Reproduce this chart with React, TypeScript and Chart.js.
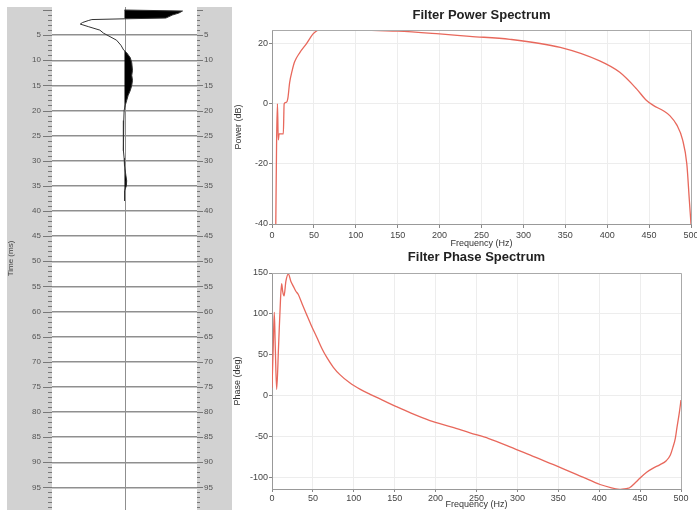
import React, { useEffect, useRef } from "react";
import { Chart, registerables } from "chart.js";

Chart.register(...registerables);

const FONT = "'Liberation Sans', Arial, Helvetica, sans-serif";
const LINE_RED = "#e8685c";

// ---- Left panel: wavelet trace (time in ms, normalised amplitude) ----
const traceTime = [0, 0.2, 0.6, 1.0, 1.4, 1.6, 1.75, 1.9, 2.1, 2.5, 2.8, 3.3, 4.0, 4.6, 5.3, 6.0, 7.0, 8.0, 8.5, 9.5, 10.5, 12, 13, 14, 15, 16, 17, 18, 19, 20, 22, 25, 28, 29.5, 31, 33, 34, 35, 36, 38];
const traceAmp = [0, 0.8, 0.75, 0.66, 0.6, 0.57, 0.0, -0.45, -0.5, -0.58, -0.61, -0.5, -0.34, -0.29, -0.2, -0.11, -0.05, -0.01, 0.03, 0.08, 0.1, 0.11, 0.1, 0.11, 0.1, 0.08, 0.05, 0.03, 0.01, -0.005, -0.01, -0.015, -0.015, -0.005, 0, 0.02, 0.03, 0.025, 0, 0];
const timeTickLabels = [5, 10, 15, 20, 25, 30, 35, 40, 45, 50, 55, 60, 65, 70, 75, 80, 85, 90, 95];

// ---- Filter power spectrum ----
const powerFreq = [4.5, 5.5, 6.5, 7.5, 8.5, 13.5, 14.5, 17, 19, 21, 24, 27, 33, 41, 49, 55, 65, 80, 95, 107, 150, 200, 236, 284, 344, 391, 415, 435, 447, 455, 467, 475, 483, 490, 495, 498, 500];
const powerDb = [-41, -12, 0, -12, -10, -10, 0, 0.5, 2, 7, 11, 14, 17, 20, 23.3, 24.6, 25.8, 26.3, 25.6, 24.7, 24.2, 23.3, 22.5, 21.5, 18.8, 14.3, 10.5, 5, 1.1, -0.5, -2.3, -4, -7, -12, -20, -32, -40];
const powerTicks = [-40, -20, 0, 20];

// ---- Filter phase spectrum ----
const phaseFreq = [0, 1.5, 2.8, 4, 5.7, 8, 10.5, 11.8, 13, 14.7, 17, 20, 23, 26, 29, 32, 37, 42, 48, 54.6, 61, 67, 75, 83, 95, 108, 120, 135, 152, 170, 193, 220, 242, 265, 291, 320, 352, 380, 401, 415, 425, 437, 445, 450, 458, 466, 474, 482, 487, 490, 493, 495, 498, 500];
const phaseDeg = [10, 60, 102, 60, 8, 60, 120, 137, 128, 122, 140, 149, 140, 134, 128, 124, 112, 100, 86, 72, 58, 47, 35, 26, 16, 8, 2, -5, -13, -21, -30, -38, -45, -52, -62, -74, -87, -99, -108, -112, -114, -112, -105, -100, -93, -88, -84, -79, -72, -63, -52, -39, -20, -5];
const phaseTicks = [-100, -50, 0, 50, 100, 150];

const freqTicks = [0, 50, 100, 150, 200, 250, 300, 350, 400, 450, 500];

const leftPanelPlugin = {
  id: "leftPanel",
  beforeDraw(chart: any) {
    const { ctx, chartArea: a } = chart;
    ctx.save();
    ctx.fillStyle = "#d2d2d2";
    ctx.fillRect(7, 7, chart.width - 7, chart.height - 7);
    ctx.fillStyle = "#ffffff";
    ctx.fillRect(a.left, a.top, a.right - a.left, a.bottom - a.top);
    ctx.restore();
  },
  beforeDatasetsDraw(chart: any) {
    const { ctx, chartArea: a } = chart;
    const x = Math.round(chart.scales.x.getPixelForValue(0)) + 0.5;
    ctx.save();
    ctx.strokeStyle = "#8f8f8f";
    ctx.lineWidth = 1;
    ctx.beginPath();
    ctx.moveTo(x, a.top);
    ctx.lineTo(x, a.bottom);
    ctx.stroke();
    ctx.restore();
  },
  afterDraw(chart: any) {
    const { ctx, chartArea: a } = chart;
    const ys = chart.scales.y;
    ctx.save();
    ctx.strokeStyle = "#777";
    ctx.lineWidth = 1;
    ctx.beginPath();
    for (let v = 0; v < 100; v++) {
      const y = Math.round(ys.getPixelForValue(v)) + 0.5;
      if (y > a.bottom) continue;
      const major = v % 5 === 0;
      ctx.moveTo(a.left - (major ? 9 : 4), y);
      ctx.lineTo(a.left, y);
      ctx.moveTo(a.right, y);
      ctx.lineTo(a.right + (major ? 6 : 3), y);
    }
    ctx.stroke();
    ctx.restore();
  },
};

const framePlugin = {
  id: "frame",
  afterDatasetsDraw(chart: any) {
    const { ctx, chartArea: a } = chart;
    ctx.save();
    ctx.strokeStyle = "#aaaaaa";
    ctx.lineWidth = 1;
    ctx.beginPath();
    const t = Math.round(a.top) + 0.5;
    const r = Math.round(a.right) + 0.5;
    ctx.moveTo(a.left, t);
    ctx.lineTo(r, t);
    ctx.lineTo(r, a.bottom);
    ctx.stroke();
    ctx.restore();
  },
};

function timeAxis(position: string, width: number, withTitle: boolean, pad: number) {
  return {
    type: "linear",
    position,
    reverse: true,
    min: -0.6,
    max: 99.5,
    afterBuildTicks: (s: any) => {
      const t: any[] = [];
      for (let v = 0; v < 100; v++) t.push({ value: v });
      s.ticks = t;
    },
    afterFit: (s: any) => {
      s.width = width;
      s.paddingTop = 0;
      s.paddingBottom = 0;
    },
    grid: {
      drawOnChartArea: position === "left",
      drawTicks: false,
      color: (c: any) => (c.tick && c.tick.value % 5 === 0 && c.tick.value > 0 ? "#8f8f8f" : "rgba(0,0,0,0)"),
      lineWidth: 1.5,
    },
    border: { display: false },
    ticks: {
      autoSkip: false,
      maxRotation: 0,
      padding: pad,
      color: "#555",
      font: { family: FONT, size: 8 },
      callback: (v: any) => (timeTickLabels.includes(v) ? String(v) : ""),
    },
    title: {
      display: withTitle,
      text: "Time (ms)",
      color: "#444",
      font: { family: FONT, size: 8 },
      padding: { top: 1, bottom: 0 },
    },
  };
}

const leftConfig = () => ({
  type: "line",
  data: {
    datasets: [
      {
        data: traceTime.map((t, i) => ({ x: traceAmp[i], y: t })),
        borderColor: "#333",
        borderWidth: 1,
        pointRadius: 0,
        fill: false,
        xAxisID: "x",
        yAxisID: "y",
      },
      {
        data: traceTime.map((t, i) => ({ x: Math.max(traceAmp[i], 0), y: t })),
        borderColor: "rgba(0,0,0,0)",
        borderWidth: 0,
        backgroundColor: "#000",
        pointRadius: 0,
        fill: "origin",
        xAxisID: "x",
        yAxisID: "y",
      },
    ],
  },
  options: {
    indexAxis: "y",
    responsive: false,
    animation: false,
    layout: { padding: { left: 5, top: 7, right: 0, bottom: 0 } },
    plugins: { legend: { display: false }, tooltip: { enabled: false } },
    scales: {
      x: { type: "linear", min: -1, max: 1, display: false },
      y: timeAxis("left", 47, true, 11),
      y2: timeAxis("right", 35, false, 7),
    },
  },
  plugins: [leftPanelPlugin],
});

function spectrumConfig(p: any) {
  return {
    type: "line",
    data: {
      datasets: [
        {
          data: p.freqs.map((f: number, i: number) => ({ x: f, y: p.values[i] })),
          borderColor: LINE_RED,
          borderWidth: 1.3,
          pointRadius: 0,
          fill: false,
          clip: 0,
          cubicInterpolationMode: "monotone",
        },
      ],
    },
    options: {
      responsive: false,
      animation: false,
      layout: { padding: { left: 0, right: p.padRight, top: 0, bottom: 0 } },
      plugins: {
        legend: { display: false },
        tooltip: { enabled: false },
        title: {
          display: true,
          text: p.title,
          fullSize: false,
          color: "#222",
          font: { family: FONT, size: 13, weight: "bold", lineHeight: 1.2 },
          padding: p.titlePad,
        },
      },
      scales: {
        x: {
          type: "linear",
          min: 0,
          max: 500,
          afterBuildTicks: (s: any) => {
            s.ticks = freqTicks.map((v) => ({ value: v }));
          },
          afterFit: (s: any) => {
            s.height = p.xHeight;
            s.paddingLeft = 0;
            s.paddingRight = 0;
          },
          grid: { color: "#ededed", tickColor: "#888", tickLength: p.xTickLen },
          border: { color: "#999" },
          ticks: { color: "#444", font: { family: FONT, size: 9 }, padding: p.xTickPad, maxRotation: 0, autoSkip: false },
          title: {
            display: true,
            text: "Frequency (Hz)",
            color: "#333",
            font: { family: FONT, size: 9 },
            padding: { top: 0, bottom: p.xTitlePad },
          },
        },
        y: {
          type: "linear",
          min: p.yMin,
          max: p.yMax,
          afterBuildTicks: (s: any) => {
            s.ticks = p.yTicks.map((v: number) => ({ value: v }));
          },
          afterFit: (s: any) => {
            s.width = 40;
            s.paddingTop = 0;
            s.paddingBottom = 0;
          },
          grid: { color: "#ededed", tickColor: "#888", tickLength: 3 },
          border: { color: "#999" },
          ticks: { color: "#444", font: { family: FONT, size: 9 }, padding: 1, autoSkip: false },
          title: {
            display: true,
            text: p.yTitle,
            color: "#333",
            font: { family: FONT, size: 9 },
            padding: { top: p.yTitlePad, bottom: 0 },
          },
        },
      },
    },
    plugins: [framePlugin],
  };
}

const powerConfig = () =>
  spectrumConfig({
    title: "Filter Power Spectrum",
    yTitle: "Power (dB)",
    freqs: powerFreq,
    values: powerDb,
    yMin: -40,
    yMax: 24.6,
    yTicks: powerTicks,
    padRight: 6,
    titlePad: { top: 7.5, bottom: 6.9 },
    yTitlePad: 1,
    xHeight: 26,
    xTickLen: 4,
    xTickPad: 2,
    xTitlePad: 1,
  });

const phaseConfig = () =>
  spectrumConfig({
    title: "Filter Phase Spectrum",
    yTitle: "Phase (deg)",
    freqs: phaseFreq,
    values: phaseDeg,
    yMin: -113.5,
    yMax: 150,
    yTicks: phaseTicks,
    padRight: 16,
    titlePad: { top: 0, bottom: 7.4 },
    yTitlePad: 0,
    xHeight: 21,
    xTickLen: 3,
    xTickPad: 1,
    xTitlePad: 0,
  });

function ChartCanvas({ config, left, top, width, height }: any) {
  const ref = useRef<HTMLCanvasElement>(null);
  useEffect(() => {
    const chart = new Chart(ref.current as HTMLCanvasElement, config() as any);
    return () => chart.destroy();
  }, []);
  return (
    <canvas
      ref={ref}
      width={width}
      height={height}
      style={{ position: "absolute", left, top, width, height, display: "block" }}
    />
  );
}

export default function App() {
  return (
    <div
      style={{
        position: "fixed",
        left: 0,
        top: 0,
        width: 697,
        height: 510,
        background: "#fff",
        overflow: "hidden",
        fontFamily: FONT,
      }}
    >
      <ChartCanvas config={leftConfig} left={0} top={0} width={232} height={510} />
      <ChartCanvas config={powerConfig} left={232} top={0} width={465} height={250} />
      <ChartCanvas config={phaseConfig} left={232} top={250} width={465} height={260} />
    </div>
  );
}
